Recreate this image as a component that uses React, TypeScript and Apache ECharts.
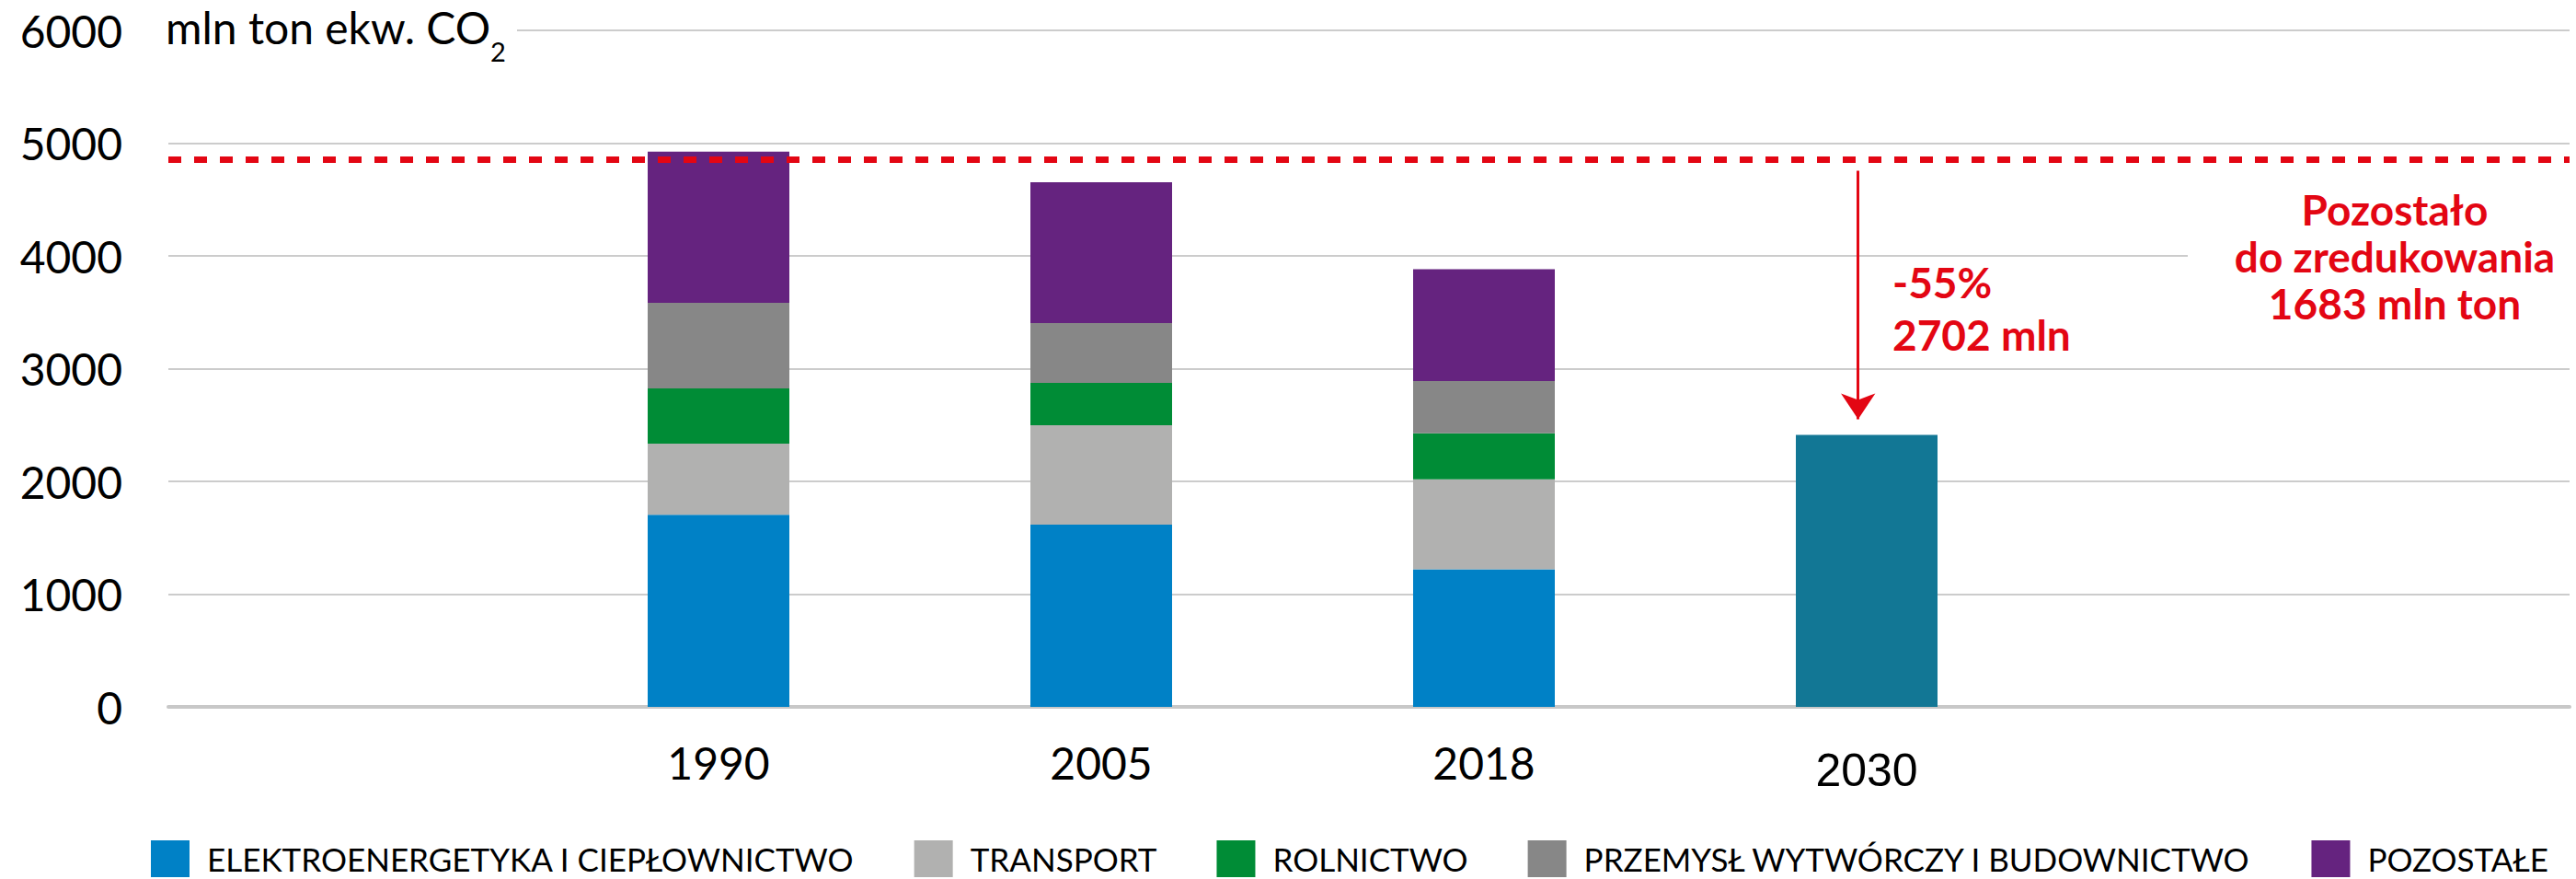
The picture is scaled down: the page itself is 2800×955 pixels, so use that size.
import React, { useEffect, useRef } from "react";
import * as echarts from "echarts";

const categories = ["1990", "2005", "2018", "2030"];
const seriesNames = [
  "ELEKTROENERGETYKA I CIEPŁOWNICTWO",
  "TRANSPORT",
  "ROLNICTWO",
  "PRZEMYSŁ WYTWÓRCZY I BUDOWNICTWO",
  "POZOSTAŁE",
];
const seriesColors = ["#0081C6", "#B1B1B0", "#008C36", "#878787", "#65237F"];
const elektro = [1704, 1616, 1221];
const transport = [630, 881, 798];
const rolnictwo = [491, 376, 408];
const przemysl = [759, 531, 463];
const pozostale = [1341, 1250, 991];
const target2030 = [null, null, null, 2412];
const level1990 = 4855;
const yTicks = { min: 0, max: 6000, interval: 1000 };

const RED = "#E30613";
const FONT = "Lato, 'Open Sans', sans-serif";

export default function App() {
  const ref = useRef<HTMLDivElement>(null);

  useEffect(() => {
    if (!ref.current) return;
    const chart = echarts.init(ref.current, undefined, { renderer: "svg" });
    const sectorData = [elektro, transport, rolnictwo, przemysl, pozostale];
    const series: any[] = sectorData.map((arr, i) => ({
      name: seriesNames[i],
      type: "bar",
      stack: "total",
      barWidth: 154,
      xAxisIndex: 1,
      yAxisIndex: 1,
      itemStyle: { color: seriesColors[i] },
      data: arr,
    }));
    series.push({
      name: "2030",
      type: "bar",
      stack: "total",
      barWidth: 154,
      xAxisIndex: 1,
      yAxisIndex: 1,
      itemStyle: { color: "#127795" },
      data: target2030.map((v) => (v == null ? "-" : v)),
    });
    // annotation lines on the full-width grid
    series.push({
      name: "annotations",
      type: "line",
      xAxisIndex: 0,
      yAxisIndex: 0,
      data: [],
      silent: true,
      markLine: {
        silent: true,
        symbol: "none",
        label: { show: false },
        emphasis: { disabled: true },
        animation: false,
        data: [
          {
            yAxis: level1990,
            lineStyle: { color: RED, width: 7, type: [14, 14] },
          },
          [
            {
              coord: [2.978, level1990 - 100],
              symbol: "none",
              lineStyle: { color: RED, width: 3, type: "solid" },
            },
            {
              coord: [2.978, (target2030[3] as number) + 140],
              symbol: "arrow",
              symbolSize: 28,
            },
          ],
        ],
      },
    });

    chart.setOption({
      animation: false,
      backgroundColor: "#ffffff",
      grid: [
        { left: 183, right: 7, top: 33, bottom: 187 },
        { left: 573, width: 1664, top: 33, bottom: 187 },
      ],
      legend: {
        data: seriesNames,
        left: 159,
        top: 908,
        itemWidth: 42,
        itemHeight: 40,
        itemGap: 65,
        icon: "rect",
        selectedMode: false,
        textStyle: {
          fontFamily: FONT,
          fontSize: 35,
          lineHeight: 36,
          color: "#000",
          padding: [0, 0, 0, 14],
        },
      },
      xAxis: [
        {
          type: "value",
          gridIndex: 0,
          min: -1.4375,
          max: 4.837,
          splitLine: { show: false },
          axisTick: { show: false },
          axisLabel: { show: false },
          axisLine: { show: true, lineStyle: { color: "#C8C8C8", width: 4 } },
        },
        {
          type: "category",
          gridIndex: 1,
          data: categories,
          axisLine: { show: false },
          axisTick: { show: false },
          splitLine: { show: false },
          axisLabel: {
            formatter: (v: string) => (v === "2030" ? `{a|${v}}` : v),
            fontFamily: FONT,
            fontSize: 48,
            color: "#000",
            margin: 36,
            rich: {
              a: {
                fontFamily: "'Liberation Sans', Arial, sans-serif",
                fontSize: 50,
                color: "#000",
                padding: [8, 0, 0, 0],
              },
            },
          },
        },
      ],
      yAxis: [
        {
          type: "value",
          gridIndex: 0,
          min: yTicks.min,
          max: yTicks.max,
          interval: yTicks.interval,
          axisLine: { show: false },
          axisTick: { show: false },
          splitLine: { lineStyle: { color: "#CCCCCC", width: 2 } },
          axisLabel: {
            formatter: (v: number) => String(v),
            fontFamily: FONT,
            fontSize: 48,
            color: "#000",
            margin: 50,
          },
        },
        {
          type: "value",
          gridIndex: 1,
          min: yTicks.min,
          max: yTicks.max,
          interval: yTicks.interval,
          show: false,
          splitLine: { show: false },
        },
      ],
      graphic: [
        {
          type: "rect",
          z: 100,
          shape: { x: 172, y: 10, width: 390, height: 48 },
          style: { fill: "#ffffff" },
        },
        {
          type: "text",
          z: 101,
          x: 180,
          y: 53,
          style: {
            text: "mln ton ekw. CO",
            fontFamily: FONT,
            fontSize: 48,
            fill: "#000",
            textVerticalAlign: "bottom",
          },
        },
        {
          type: "text",
          z: 101,
          x: 533,
          y: 70,
          style: {
            text: "2",
            fontFamily: FONT,
            fontSize: 29,
            fill: "#000",
            textVerticalAlign: "bottom",
          },
        },
        {
          type: "rect",
          z: 100,
          shape: { x: 2378, y: 192, width: 422, height: 170 },
          style: { fill: "#ffffff" },
        },
        {
          type: "text",
          z: 101,
          x: 2603,
          y: 202,
          style: {
            text: "Pozostało\ndo zredukowania\n1683 mln ton",
            fontFamily: FONT,
            fontWeight: "bold",
            fontSize: 46,
            lineHeight: 51,
            fill: RED,
            align: "center",
            verticalAlign: "top",
          },
        },
        {
          type: "text",
          z: 101,
          x: 2057,
          y: 278,
          style: {
            text: "-55%\n2702 mln",
            fontFamily: FONT,
            fontWeight: "bold",
            fontSize: 46,
            lineHeight: 57,
            fill: RED,
            align: "left",
            verticalAlign: "top",
          },
        },
      ],
      series,
    });

    return () => chart.dispose();
  }, []);

  return (
    <div
      ref={ref}
      style={{ position: "fixed", left: 0, top: 0, width: 2800, height: 955 }}
    />
  );
}
